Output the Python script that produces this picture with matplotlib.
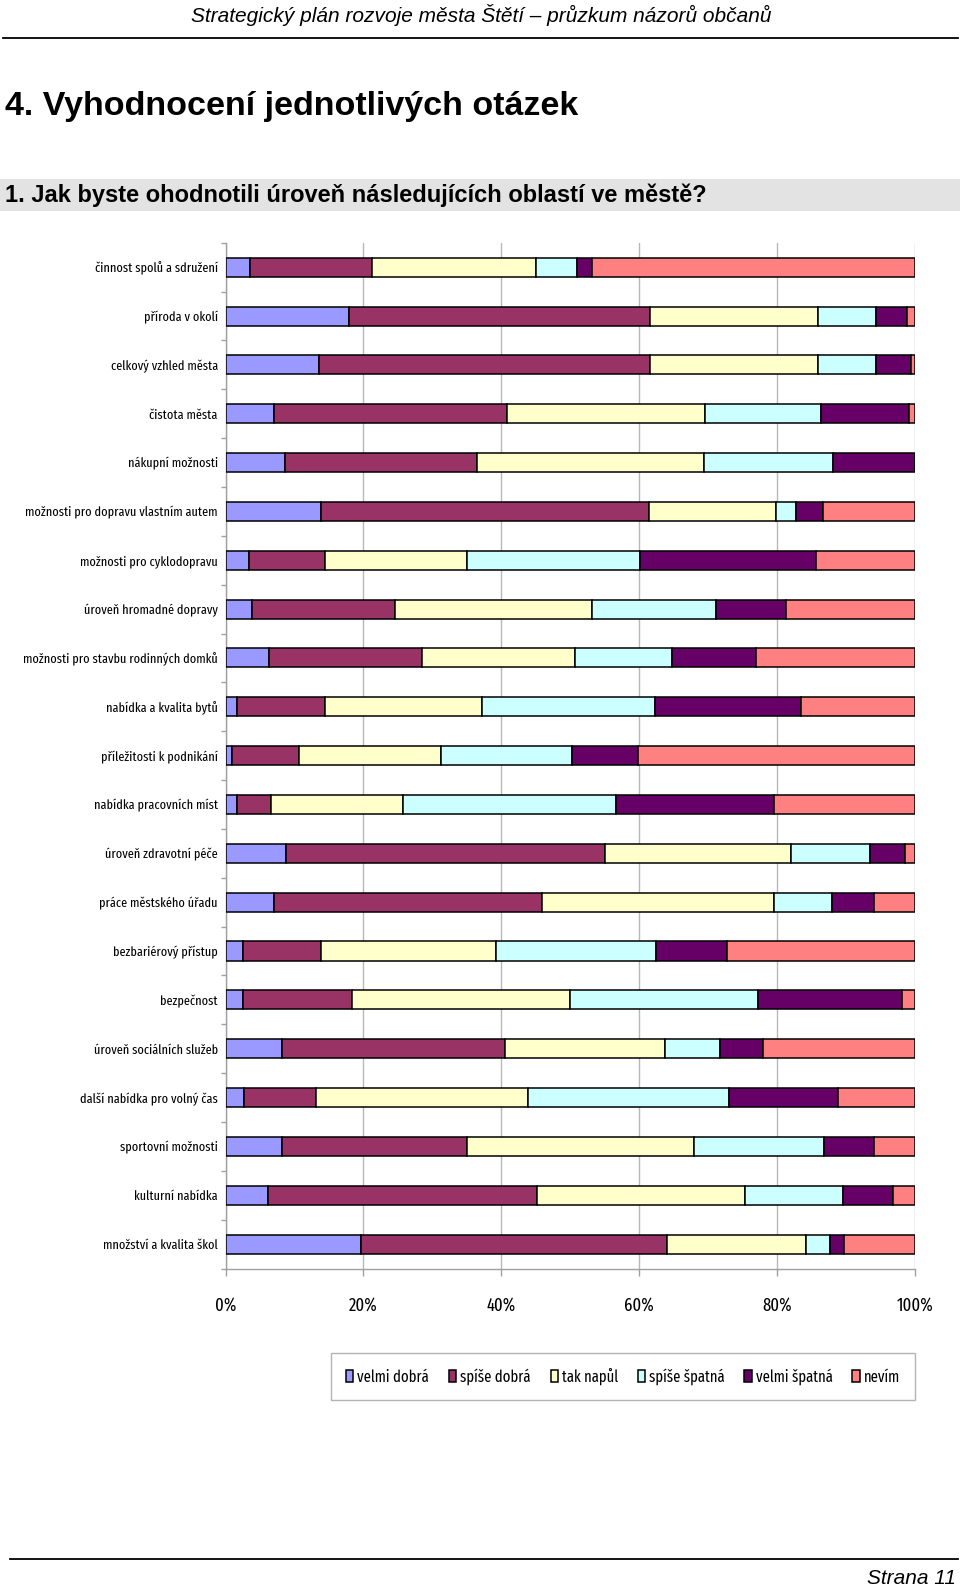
import matplotlib
matplotlib.use("Agg")
import matplotlib.pyplot as plt
from matplotlib.patches import Rectangle
from matplotlib.lines import Line2D
import numpy as np

plt.rcParams['font.family'] = ['Liberation Sans', 'DejaVu Sans']
CHART_FONT = ['Fira Sans Extra Condensed', 'Archivo Narrow', 'Liberation Sans', 'DejaVu Sans']

categories = [
    "činnost spolů a sdružení",
    "příroda v okolí",
    "celkový vzhled města",
    "čistota města",
    "nákupní možnosti",
    "možnosti pro dopravu vlastním autem",
    "možnosti pro cyklodopravu",
    "úroveň hromadné dopravy",
    "možnosti pro stavbu rodinných domků",
    "nabídka a kvalita bytů",
    "příležitosti k podnikání",
    "nabídka pracovních míst",
    "úroveň zdravotní péče",
    "práce městského úřadu",
    "bezbariérový přístup",
    "bezpečnost",
    "úroveň sociálních služeb",
    "další nabídka pro volný čas",
    "sportovní možnosti",
    "kulturní nabídka",
    "množství a kvalita škol",
]

# percent of answers
velmi_dobra = [3.6, 17.9, 13.5, 7.1, 8.6, 13.8, 3.4, 3.8, 6.3, 1.6, 1.0,
               1.6, 8.8, 7.1, 2.5, 2.5, 8.2, 2.7, 8.2, 6.2, 19.7]
spise_dobra = [17.7, 43.7, 48.1, 33.7, 27.9, 47.6, 11.1, 20.8, 22.2, 12.9, 9.6,
               5.0, 46.3, 38.8, 11.3, 15.8, 32.4, 10.4, 26.9, 39.0, 44.3]
tak_napul = [23.7, 24.4, 24.4, 28.8, 32.9, 18.5, 20.5, 28.6, 22.2, 22.7, 20.7,
             19.1, 26.9, 33.7, 25.4, 31.7, 23.1, 30.8, 32.8, 30.2, 20.2]
spise_spatna = [6.0, 8.4, 8.4, 16.8, 18.7, 2.9, 25.1, 17.9, 14.1, 25.1, 18.9,
                31.0, 11.5, 8.4, 23.2, 27.2, 8.1, 29.1, 18.9, 14.2, 3.5]
velmi_spatna = [2.1, 4.4, 5.1, 12.8, 11.9, 3.9, 25.5, 10.2, 12.2, 21.2, 9.7,
                22.8, 5.0, 6.0, 10.3, 21.0, 6.1, 15.8, 7.3, 7.2, 2.0]
nevim = [46.9, 1.2, 0.5, 0.8, 0.0, 13.3, 14.4, 18.7, 23.0, 16.5, 40.1,
         20.5, 1.5, 6.0, 27.3, 1.8, 22.1, 11.2, 5.9, 3.2, 10.3]

series_names = ["velmi dobrá", "spíše dobrá", "tak napůl", "spíše špatná", "velmi špatná", "nevím"]
series_colors = ["#9999FF", "#993366", "#FFFFCC", "#CCFFFF", "#660066", "#FF8080"]

W, H = 960, 1589
fig = plt.figure(figsize=(W / 100, H / 100), dpi=100)


def fx(px):
    return px / W


def fy(py):
    return 1 - py / H


# page header
fig.text(fx(481), fy(15), "Strategický plán rozvoje města Štětí – průzkum názorů občanů",
         ha="center", va="center", fontsize=15, style="italic")
fig.add_artist(Line2D([fx(3), fx(958)], [fy(37.5), fy(37.5)], color="black", lw=1.3))
fig.text(fx(5), fy(107), "4. Vyhodnocení jednotlivých otázek",
         ha="left", va="center", fontsize=24.5, fontweight="bold")
fig.add_artist(Rectangle((0, fy(211)), 1, (211 - 179) / H, color="#e3e3e3", lw=0))
fig.text(fx(5), fy(195), "1. Jak byste ohodnotili úroveň následujících oblastí ve městě?",
         ha="left", va="center", fontsize=17, fontweight="bold")

# chart
ax = fig.add_axes([fx(225.5), fy(1268.5), (914.9 - 225.5) / W, (1268.5 - 242.8) / H])

data = np.array([velmi_dobra, spise_dobra, tak_napul, spise_spatna, velmi_spatna, nevim])
data = data / data.sum(axis=0) * 100
y = np.arange(len(categories))
left = np.zeros(len(categories))
for vals, name, col in zip(data, series_names, series_colors):
    ax.barh(y, vals, left=left, height=0.39, color=col, edgecolor="black",
            linewidth=1.1, label=name, zorder=3)
    left += vals

ax.set_xlim(0, 100)
ax.set_ylim(len(categories) - 0.5, -0.5)
ax.set_xticks(range(0, 101, 20))
ax.set_xticklabels([f"{v}%" for v in range(0, 101, 20)], fontsize=13, family=CHART_FONT)
ax.set_yticks(y)
ax.set_yticklabels(categories, fontsize=9.6, family=CHART_FONT)
ax.set_yticks(np.arange(-0.5, len(categories)), minor=True)
ax.tick_params(axis="y", which="major", length=0, pad=5.5)
ax.tick_params(axis="y", which="minor", length=3.5, color="#a0a0a0", width=1, direction="out")
ax.tick_params(axis="x", which="major", length=5, color="#a0a0a0", width=1, pad=15)
ax.xaxis.grid(True, color="#b8b8b8", lw=1, zorder=0)
for s in ["top", "right"]:
    ax.spines[s].set_visible(False)
for s in ["left", "bottom"]:
    ax.spines[s].set_color("#a0a0a0")
    ax.spines[s].set_linewidth(1)

handles = [Rectangle((0, 0), 1, 1, facecolor=c, edgecolor="black", lw=1.1) for c in series_colors]
leg = fig.legend(handles, series_names, loc="center", mode="expand",
                 bbox_to_anchor=(fx(331), fy(1401), (915 - 331) / W, (1401 - 1352) / H),
                 ncol=6, frameon=True, fancybox=False, edgecolor="#a0a0a0",
                 prop={"family": CHART_FONT, "size": 11.5},
                 handlelength=0.45, handleheight=0.8, handletextpad=0.25,
                 borderpad=0.95, borderaxespad=0)
leg.get_frame().set_linewidth(1)

# page footer
fig.add_artist(Line2D([fx(10), fx(958)], [fy(1559), fy(1559)], color="black", lw=1.3))
fig.text(fx(956), fy(1579), "Strana 11", ha="right", va="center", fontsize=15, style="italic")

fig.savefig("out.png", dpi=100)
plt.close(fig)
